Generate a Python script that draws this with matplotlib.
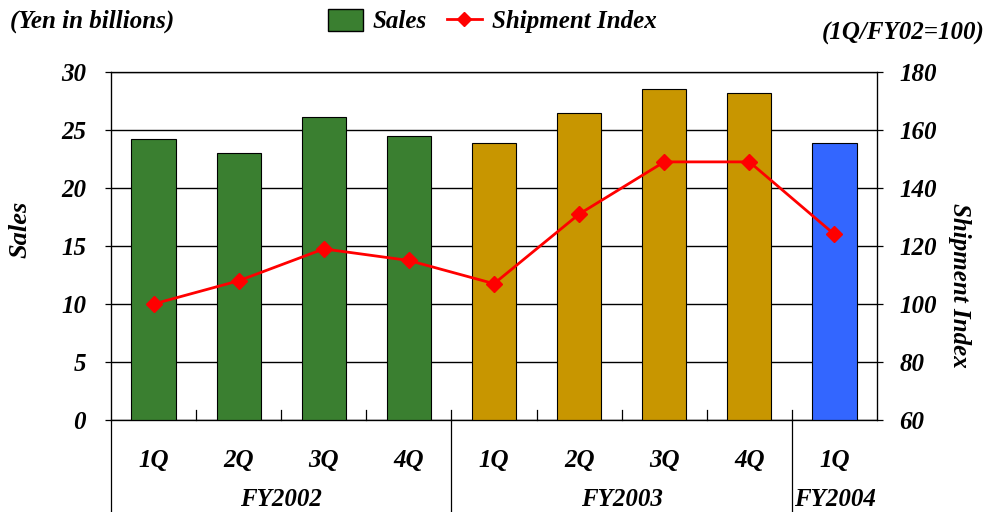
import matplotlib.pyplot as plt
import matplotlib.transforms as mtransforms
from matplotlib.lines import Line2D
from matplotlib.patches import Patch

# Quarterly data
quarters = ["1Q", "2Q", "3Q", "4Q", "1Q", "2Q", "3Q", "4Q", "1Q"]
fiscal_years = ["FY2002", "FY2003", "FY2004"]
quarters_per_year = [4, 4, 1]
sales = [24.2, 23.0, 26.1, 24.5, 23.9, 26.5, 28.5, 28.2, 23.9]
shipment_index = [100, 108, 119, 115, 107, 131, 149, 149, 124]

# Colors per fiscal year
YEAR_COLORS = ["#3A7F30", "#C89600", "#3366FF"]
FONT = dict(family="Liberation Serif", weight="bold", style="italic")
FS = 18

fig = plt.figure(figsize=(9.91, 5.12), dpi=100)
ax = fig.add_axes([0.112, 0.1797, 0.773, 0.6797])

bar_colors = []
for color, n in zip(YEAR_COLORS, quarters_per_year):
    bar_colors += [color] * n

x = list(range(len(sales)))
ax.bar(x, sales, width=0.52, color=bar_colors, edgecolor="black",
       linewidth=0.8, zorder=3)

ax.set_xlim(-0.5, len(sales) - 0.5)
ax.set_ylim(0, 30)
ax.set_yticks(range(0, 31, 5))
ax.grid(axis="y", color="black", linewidth=1.0, zorder=0)
ax.set_xticks([])
for s in ax.spines.values():
    s.set_linewidth(0.9)
ax.tick_params(axis="y", direction="out", length=4, width=0.9, pad=14)
for lbl in ax.get_yticklabels():
    lbl.set(fontsize=FS, **FONT)

# Secondary axis for shipment index
ax2 = ax.twinx()
ax2.plot(x, shipment_index, color="#FF0000", linewidth=2, marker="D",
         markersize=8, zorder=5)
ax2.set_ylim(60, 180)
ax2.set_yticks(range(60, 181, 20))
ax2.tick_params(axis="y", direction="out", length=4, width=0.9, pad=12)
for lbl in ax2.get_yticklabels():
    lbl.set(fontsize=FS, **FONT)

# Category axis: quarter labels, inner ticks and year separators
trans = mtransforms.blended_transform_factory(ax.transData, ax.transAxes)
for i, q in enumerate(quarters):
    ax.text(i, -0.115, q, transform=trans, ha="center", va="center",
            fontsize=FS, **FONT)
for b in range(1, len(quarters)):
    ax.plot([b - 0.5, b - 0.5], [0, 0.028], transform=trans, color="black",
            linewidth=0.9, clip_on=False)

start = 0
bounds = [-0.5]
for name, n in zip(fiscal_years, quarters_per_year):
    ax.text(start + (n - 1) / 2, -0.228, name, transform=trans, ha="center",
            va="center", fontsize=FS, **FONT)
    start += n
    bounds.append(start - 0.5)
for b in bounds[:-1]:
    ax.plot([b, b], [0, -0.3], transform=trans, color="black",
            linewidth=0.9, clip_on=False)

# Axis titles and notes
fig.text(20 / 991, 1 - 229 / 512, "Sales", rotation=90, ha="center",
         va="center", fontsize=FS + 1, **FONT)
fig.text(960 / 991, 1 - 285 / 512, "Shipment Index", rotation=270,
         ha="center", va="center", fontsize=FS, **FONT)
fig.text(10 / 991, 1 - 21 / 512, "(Yen in billions)", ha="left",
         va="center", fontsize=FS, **FONT)
fig.text(985 / 991, 1 - 33 / 512, "(1Q/FY02=100)", ha="right",
         va="center", fontsize=FS, **FONT)

handles = [
    Patch(facecolor=YEAR_COLORS[0], edgecolor="black", label="Sales"),
    Line2D([], [], color="#FF0000", linewidth=2, marker="D", markersize=7,
           label="Shipment Index"),
]
fig.legend(handles=handles, loc="center", bbox_to_anchor=(492 / 991, 1 - 21 / 512),
           ncol=2, frameon=False, handlelength=1.4, handleheight=1.0,
           handletextpad=0.4, columnspacing=0.8, prop=dict(size=FS, **FONT))

fig.savefig("out.png", dpi=100)
